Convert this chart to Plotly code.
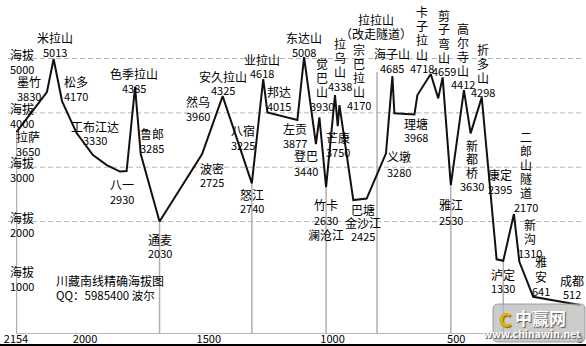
import plotly.graph_objects as go

# ---------------- data ----------------
# route profile: distance to Chengdu (km) and altitude (m)
route_km = [2277, 2154, 2127, 2093, 2034, 1968, 1912, 1859, 1832, 1798,
            1775, 1699, 1527, 1444, 1326, 1280, 1263, 1142, 1115, 1067,
            1053, 1026, 990, 979, 972, 916, 862, 784, 758, 750,
            669, 657, 603, 573, 555, 522, 469, 442, 397, 337,
            310, 267, 245, 189, 0]
route_elev = [3647, 4383, 4990, 4217, 3628, 3224, 3040, 2920, 2929, 4475,
              3242, 2000, 3242, 4309, 2703, 4622, 4009, 3868, 5027, 3426,
              3917, 2635, 4328, 3757, 4144, 2396, 2423, 3255, 4677, 3991,
              3972, 4328, 4714, 4267, 4653, 2672, 4420, 3623, 4285, 1305,
              1279, 2138, 1260, 616, 464]

# vertical drop lines (start, river crossings)
river_km = [2277, 1699, 1326, 1026, 820, 522, 310]
river_top = [3647, 2000, 2703, 2635, 4750, 2672, 1279]

grid_levels = [2000, 3000, 4000, 5000]
y_label_vals = [5000, 4000, 3000, 2000, 1000]
y_label_word = "海拔"

x_tick_vals = [2279, 2000, 1500, 1000, 500, 0]
x_tick_text = ["2154", "2000", "1500", "1000", "500", "0"]

title_lines = ["川藏南线精确海拔图", "QQ：5985400 波尔"]

# station labels: lines of text (names, published altitudes)
station_labels = [
    ["米拉山", "5013"], ["墨竹", "3830"], ["松多", "4170"], ["拉萨", "3650"],
    ["工布江达", "3330"], ["色季拉山", "4385"], ["鲁郎", "3285"], ["八一", "2930"],
    ["通麦", "2030"], ["然乌", "3960"], ["安久拉山", "4325"], ["业拉山", "4618"],
    ["东达山", "5008"], ["邦达", "4015"], ["八宿", "3225"], ["波密", "2725"],
    ["怒江", "2740"], ["左贡", "3877"], ["登巴", "3440"],
    ["觉", "巴", "山", "3930"], ["拉", "乌", "山", "4338"], ["芒康", "3750"],
    ["宗", "巴", "拉", "山", "4170"], ["拉拉山", "（改走隧道）"],
    ["竹卡", "2630", "澜沧江"], ["巴塘", "金沙江", "2425"],
    ["海子山", "4685"], ["卡", "子", "拉", "山", "4718"],
    ["剪", "子", "弯", "山", "4659"], ["高", "尔", "寺", "山", "4412"],
    ["折", "多", "山", "4298"], ["理塘", "3968"], ["义墩", "3280"],
    ["新", "都", "桥", "3630"], ["康定", "2395"],
    ["二", "郎", "山", "隧", "道", "2170"], ["雅江", "2530"],
    ["新", "沟", "1310"], ["泸定", "1330"], ["雅", "安", "641"], ["成都", "512"],
]

# ---------------- layout geometry (pixels) ----------------
W, H = 586, 346
ML, MR, MT, MB = 16, 6, 4, 13
PW, PH = W - ML - MR, H - MT - MB

# label placement: (center x, first line center y, line step)
label_pos = [
    (55, 37.3, 14.4), (29, 81.7, 14.4), (76, 81.7, 14.4), (28, 136.5, 14.2),
    (95, 126.5, 13.8), (134, 74, 13.6), (152.3, 133.5, 14.6), (121.7, 184.5, 14.2),
    (160, 239, 13.8), (198, 101, 15), (223.3, 76, 14), (261.7, 59, 13.8),
    (304, 37.3, 14.4), (279.3, 91.7, 14.3), (242.7, 130.5, 14.4), (211.7, 168, 13.8),
    (252.3, 194, 13.8), (295, 128, 14.6), (305.7, 156, 14.6),
    (321.7, 63, 14.3), (340, 43, 14.4), (338.3, 137, 15),
    (359, 49.5, 14), (376, 19.5, 13.5),
    (325.5, 205, 14.6), (363, 209.3, 13.6),
    (391.7, 53.5, 14.6), (421.7, 11.5, 14.2),
    (443.8, 15, 14), (463.3, 28.3, 14),
    (482.7, 49.3, 14.1), (416, 123.3, 14), (399.3, 156.7, 15),
    (471.7, 145, 13.7), (500, 174.5, 14.8),
    (526, 136.5, 14), (450.7, 205, 15),
    (529.5, 224, 14.4), (503.3, 274, 13.5), (540.7, 261.5, 14.5), (571.7, 280, 13.5),
]

FONT = "Noto Sans CJK SC"


def px(x):
    return (x - ML) / PW


def py(y):
    return (H - MB - y) / PH


fig = go.Figure()

# drop lines
dx, dy = [], []
for k, t in zip(river_km, river_top):
    dx += [k, k, None]
    dy += [t, -50, None]
fig.add_trace(go.Scatter(x=dx, y=dy, mode="lines",
                         line=dict(color="#b0b0b0", width=1.5),
                         hoverinfo="skip", showlegend=False, cliponaxis=False))

# profile line
fig.add_trace(go.Scatter(x=route_km, y=route_elev, mode="lines",
                         line=dict(color="#111111", width=2),
                         showlegend=False))

shapes = []
for g in grid_levels:
    shapes.append(dict(type="line", xref="paper", yref="y",
                       x0=px(8), x1=px(584), y0=g, y1=g,
                       line=dict(color="#b4b4b4", width=1, dash="5px,3px"),
                       layer="below"))
# bottom frame line
shapes.append(dict(type="line", xref="paper", yref="paper",
                   x0=px(0), x1=px(586), y0=py(345), y1=py(345),
                   line=dict(color="#000000", width=2)))


# watermark box (rounded)
def rrect(x0, y0, x1, y1, r):
    X0, X1 = px(x0), px(x1)
    Y0, Y1 = py(y1), py(y0)
    rx, ry = r / PW, r / PH
    return (f"M {X0+rx},{Y0} L {X1-rx},{Y0} Q {X1},{Y0} {X1},{Y0+ry} "
            f"L {X1},{Y1-ry} Q {X1},{Y1} {X1-rx},{Y1} L {X0+rx},{Y1} "
            f"Q {X0},{Y1} {X0},{Y1-ry} L {X0},{Y0+ry} Q {X0},{Y0} {X0+rx},{Y0} Z")


shapes.append(dict(type="path", xref="paper", yref="paper",
                   path=rrect(493, 304, 585, 342, 5),
                   fillcolor="rgba(185,185,185,0.72)",
                   line=dict(color="rgba(140,140,140,0.8)", width=1)))

annotations = []


def add_text(text, x, y, size, color="#000000", xanchor="center", **kw):
    annotations.append(dict(text=text, x=px(x), y=py(y), xref="paper", yref="paper",
                            xanchor=xanchor, yanchor="middle", showarrow=False,
                            font=dict(family=FONT, size=size, color=color, **kw)))


for lines, (cx, y0, step) in zip(station_labels, label_pos):
    for i, ln in enumerate(lines):
        size = 11 if ln.isdigit() else 12
        add_text(ln, cx, y0 + i * step, size)

# y-axis style labels
for v in y_label_vals:
    annotations.append(dict(text=y_label_word, x=px(8), y=v, xref="paper", yref="y",
                            xanchor="left", yanchor="middle", yshift=4.5, showarrow=False,
                            font=dict(family=FONT, size=12, color="#000")))
    annotations.append(dict(text=str(v), x=px(8), y=v, xref="paper", yref="y",
                            xanchor="left", yanchor="middle", yshift=-10, showarrow=False,
                            font=dict(family=FONT, size=11, color="#000")))

# title text
add_text(title_lines[0], 54, 280, 12, xanchor="left")
add_text(title_lines[1], 54, 295, 11.5, xanchor="left")

# watermark texts
add_text("<b>C</b>", 505, 318, 19, color="#e2b000", shadow="1px 1px 1px #7a6000")
add_text("<b>中赢网</b>", 540, 317.5, 17, color="#ffffff", shadow="1px 1px 1px #555")
add_text("<b>www.chinawin.net</b>", 532, 333, 10.5, color="#ffffff", shadow="1px 1px 1px #444")

fig.update_layout(
    width=W, height=H,
    margin=dict(l=ML, r=MR, t=MT, b=MB, pad=0, autoexpand=False),
    paper_bgcolor="white", plot_bgcolor="white",
    shapes=shapes, annotations=annotations,
    xaxis=dict(range=[2279, 0], tickvals=x_tick_vals, ticktext=x_tick_text,
               showgrid=False, zeroline=False, showline=True, automargin=False,
               linecolor="#b8b8b8", linewidth=1, ticks="", ticklabelstandoff=-4,
               tickfont=dict(family=FONT, size=11, color="#000")),
    yaxis=dict(range=[-50, 6003], showgrid=False, zeroline=False, automargin=False,
               showticklabels=False, showline=False),
    showlegend=False,
)

fig.write_html("out.html")
